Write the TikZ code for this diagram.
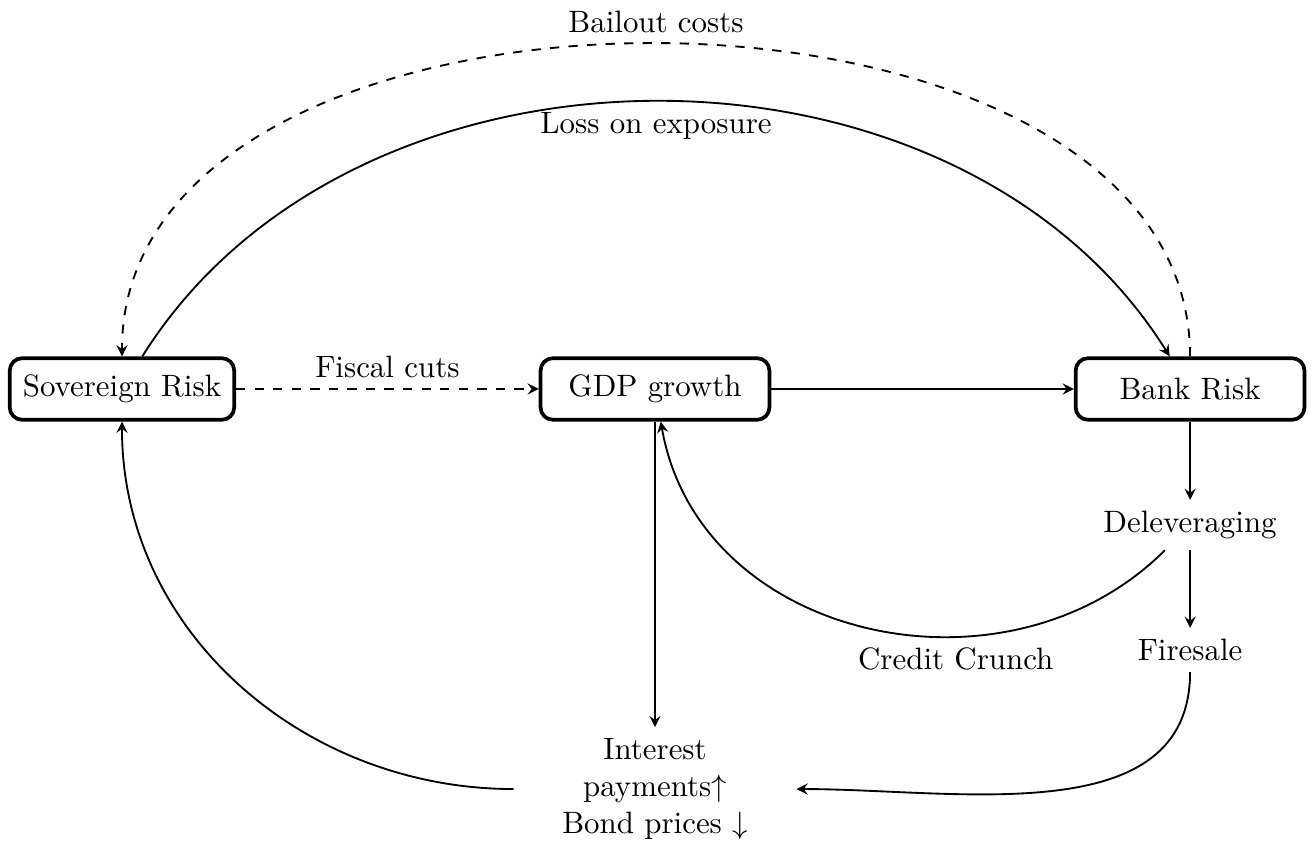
\documentclass[tikz,border=0pt]{standalone}
\usetikzlibrary{positioning}
\begin{document}
\begin{tikzpicture}[>=stealth, semithick,
    riskbox/.style={draw, very thick, rounded corners, minimum width=2.6cm, minimum height=0.7cm}]
    \useasboundingbox (0,0) rectangle (14.92,-9.636);
    % the three risk boxes
    \node[riskbox, minimum width=2.55cm] (sov) at (1.386,-4.42) {Sovereign Risk};
    \node[riskbox] (gdp) at (7.443,-4.42) {GDP growth};
    \node[riskbox] (bank) at (13.523,-4.42) {Bank Risk};
    % bank channel
    \node (delev) at (13.523,-5.966) {Deleveraging};
    \node (fire) at (13.523,-7.386) {Firesale};
    \node[text width=2.96cm, align=center] (int) at (7.443,-8.966) {Interest\\ payments$\uparrow$\\ Bond prices $\downarrow$};

    \draw[->, dashed] (sov) -- node[above]{Fiscal cuts} (gdp);
    \draw[->] (gdp) -- (bank);
    \draw[->] (bank) -- (delev);
    \draw[->] (delev) -- (fire);
    \draw[->] (gdp) -- (int);
    \draw[->] (sov) to[out=58,in=122] node[below]{Loss on exposure} (bank);
    \draw[->, dashed] (bank) to[out=90,in=90] node[above]{Bailout costs} (sov);
    \draw[->] (delev) to[out=225,in=-80,looseness=1.1] node[below, pos=0.36]{Credit Crunch} (gdp);
    \draw[->] (fire) to[out=-90,in=0] (int);
    \draw[->] (int) to[out=180,in=-90] (sov);
\end{tikzpicture}
\end{document}
